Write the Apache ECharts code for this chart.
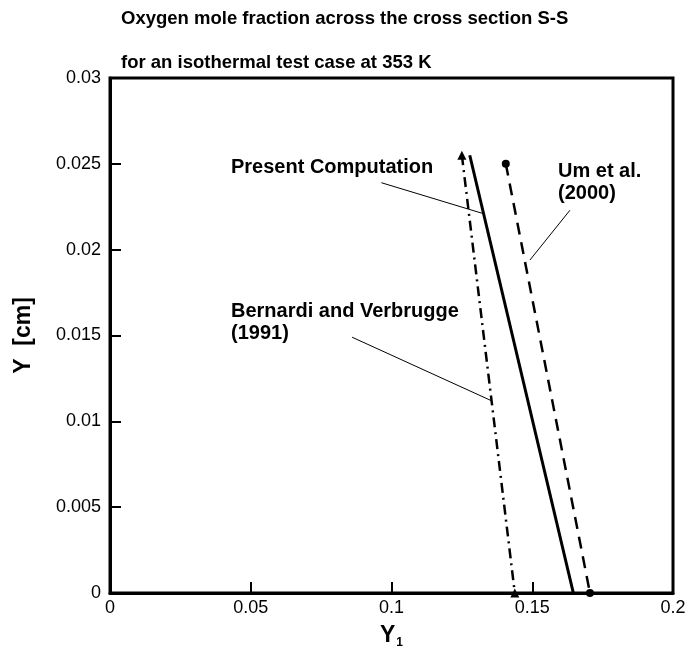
<!DOCTYPE html>
<html>
<head>
<meta charset="utf-8">
<script src="https://cdn.jsdelivr.net/npm/echarts@6/dist/echarts.min.js"></script>
<style>
  html, body { margin: 0; padding: 0; background: #fff; }
  #chart { width: 692px; height: 657px; }
</style>
</head>
<body>
<div id="chart"></div>
<script>
// curve end points [Y1, Y(cm)]
const presentComputation = [[0.1278, 0.0255], [0.1646, 0]];
const bernardiVerbrugge = [[0.1250, 0.0255], [0.1438, 0]];
const umEtAl = [[0.1406, 0.0250], [0.1705, 0]];

// leader lines of the annotations, in data units
const presentLeader = [[0.0964, 0.0239], [0.1326, 0.0221]];
const bernardiLeader = [[0.0860, 0.0149], [0.1355, 0.0112]];
const umLeader = [[0.1634, 0.0223], [0.1492, 0.0194]];

const xTicks = [0, 0.05, 0.1, 0.15, 0.2];
const yTicks = [0, 0.005, 0.01, 0.015, 0.02, 0.025, 0.03];

const titleLines = ['Oxygen mole fraction across the cross section S-S', 'for an isothermal test case at 353 K'];

const FONT = '"Liberation Sans", Arial, sans-serif';

let myChart = echarts.init(document.getElementById('chart'));

function leader(data) {
  return {
    type: 'line', data: data, symbol: 'none', silent: true,
    lineStyle: { color: '#000', width: 1, type: 'solid' }
  };
}

function txt(x, y, lines, size) {
  return {
    type: 'text', left: x, top: y,
    style: { text: lines.join('\n'), font: 'bold ' + size + 'px ' + FONT, fill: '#000', lineHeight: 22 }
  };
}

myChart.setOption({
  animation: false,
  backgroundColor: '#fff',
  grid: {
    left: 110, right: 19, top: 78, bottom: 64,
    show: true, borderColor: '#000', borderWidth: 3
  },
  xAxis: {
    type: 'value', min: xTicks[0], max: xTicks[xTicks.length - 1], interval: 0.05,
    splitLine: { show: false },
    axisLine: { lineStyle: { color: '#000', width: 3 } },
    axisTick: { inside: true, length: 11, lineStyle: { color: '#000', width: 2 } },
    axisLabel: { color: '#000', fontFamily: FONT, fontSize: 18, margin: 6 },
    name: '{y|Y}{s|1}', nameLocation: 'middle', nameGap: 30,
    nameTextStyle: {
      rich: {
        y: { fontFamily: FONT, fontWeight: 'bold', fontSize: 23, color: '#000' },
        s: { fontFamily: FONT, fontWeight: 'bold', fontSize: 12, color: '#000', padding: [14, 0, 0, 1] }
      }
    }
  },
  yAxis: {
    type: 'value', min: yTicks[0], max: yTicks[yTicks.length - 1], interval: 0.005,
    splitLine: { show: false },
    axisLine: { lineStyle: { color: '#000', width: 3 } },
    axisTick: { inside: true, length: 11, lineStyle: { color: '#000', width: 2 } },
    axisLabel: { color: '#000', fontFamily: FONT, fontSize: 18, margin: 9 },
    name: 'Y  [cm]', nameLocation: 'middle', nameGap: 75,
    nameTextStyle: { color: '#000', fontFamily: FONT, fontWeight: 'bold', fontSize: 23 }
  },
  series: [
    {
      name: 'Present Computation', type: 'line', data: presentComputation,
      symbol: 'none', lineStyle: { color: '#000', width: 3, type: 'solid' }
    },
    {
      name: 'Bernardi and Verbrugge (1991)', type: 'line', data: bernardiVerbrugge,
      symbol: 'triangle', symbolSize: 9, itemStyle: { color: '#000' },
      lineStyle: { color: '#000', width: 2.5, type: [10, 5, 2, 5] }
    },
    {
      name: 'Um et al. (2000)', type: 'line', data: umEtAl,
      symbol: 'circle', symbolSize: 8, itemStyle: { color: '#000' },
      lineStyle: { color: '#000', width: 2.5, type: [12, 8] }
    },
    leader(presentLeader),
    leader(bernardiLeader),
    leader(umLeader)
  ],
  graphic: [
    txt(121, 8, [titleLines[0]], 18.5),
    txt(121, 52, [titleLines[1]], 18.5),
    txt(231, 156, ['Present Computation'], 20),
    txt(231, 300, ['Bernardi and Verbrugge', '(1991)'], 20),
    txt(558, 160, ['Um et al.', '(2000)'], 20)
  ]
});
</script>
</body>
</html>
